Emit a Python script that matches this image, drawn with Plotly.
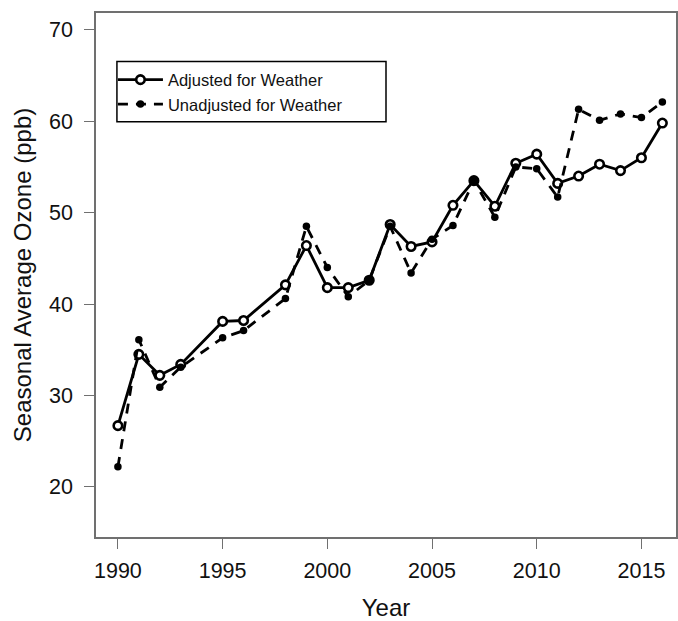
import plotly.graph_objects as go

years = [1990, 1991, 1992, 1993, 1995, 1996, 1998, 1999, 2000, 2001, 2002, 2003, 2004,
         2005, 2006, 2007, 2008, 2009, 2010, 2011, 2012, 2013, 2014, 2015, 2016]
adjusted = [26.7, 34.5, 32.2, 33.4, 38.1, 38.2, 42.1, 46.4, 41.8, 41.8, 42.6, 48.7, 46.3,
            46.8, 50.8, 53.5, 50.7, 55.4, 56.4, 53.2, 54.0, 55.3, 54.6, 56.0, 59.8]
unadjusted = [22.2, 36.1, 30.9, 33.1, 36.3, 37.1, 40.6, 48.5, 44.0, 40.8, 42.6, 48.5, 43.4,
              47.1, 48.6, 53.5, 49.5, 55.0, 54.8, 51.7, 61.3, 60.1, 60.8, 60.4, 62.1]
x_ticks = [1990, 1995, 2000, 2005, 2010, 2015]
y_ticks = [20, 30, 40, 50, 60, 70]

FONT = "Liberation Sans, Arial, sans-serif"
AXC = "#707070"

fig = go.Figure()
fig.add_trace(go.Scatter(
    x=years, y=adjusted, name="Adjusted for Weather", mode="lines+markers",
    line=dict(color="black", width=2.8),
    marker=dict(symbol="circle", size=8.5, color="white", line=dict(color="black", width=2.6)),
))
fig.add_trace(go.Scatter(
    x=years, y=unadjusted, name="Unadjusted for Weather", mode="lines+markers",
    line=dict(color="black", width=2.8, dash="10px,8px"),
    marker=dict(symbol="circle", size=7.5, color="black"),
))

fig.update_layout(
    width=678, height=621,
    margin=dict(l=96, r=0, t=13, b=78),
    plot_bgcolor="white", paper_bgcolor="white",
    font=dict(family=FONT, size=21.5, color="#111"),
    showlegend=True,
    legend=dict(
        x=(113 - 96) / 582, y=(543 - 63) / 530, xanchor="left", yanchor="top",
        bgcolor="rgba(0,0,0,0)", borderwidth=0,
        font=dict(family=FONT, size=16.5, color="#111"),
        itemwidth=45, tracegroupgap=0,
    ),
    shapes=[dict(type="rect", xref="paper", yref="paper",
                 x0=(117 - 96) / 582, x1=(387 - 96) / 582,
                 y0=(543 - 123) / 530, y1=(543 - 62) / 530,
                 line=dict(color="black", width=1.5), fillcolor="rgba(0,0,0,0)")],
)
fig.update_xaxes(
    range=[1988.953, 2016.651], tickvals=x_ticks, ticks="outside", ticklen=10,
    tickwidth=1.2, tickcolor=AXC, showline=True, linecolor=AXC, linewidth=1.5,
    mirror=True, showgrid=False, zeroline=False, ticklabelstandoff=3,
    title=dict(text="Year", standoff=22, font=dict(size=24)),
)
fig.update_yaxes(
    range=[14.517, 71.839], tickvals=y_ticks, ticks="outside", ticklen=10,
    tickwidth=1.2, tickcolor=AXC, showline=True, linecolor=AXC, linewidth=1.5,
    mirror=True, showgrid=False, zeroline=False, ticklabelstandoff=7,
    title=dict(text="Seasonal Average Ozone (ppb)", standoff=11, font=dict(size=24)),
)

fig.write_html("out.html")
